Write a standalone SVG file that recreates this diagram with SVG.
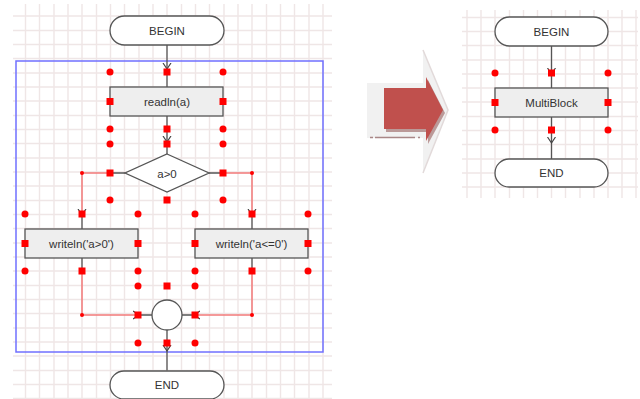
<svg xmlns="http://www.w3.org/2000/svg" width="640" height="399" viewBox="0 0 640 399">
<defs>
<style>
.grid{stroke:#efe6e6;stroke-width:1.4;fill:none}
.term{fill:#fff;stroke:#555;stroke-width:1.3}
.proc{fill:#eeeeee;stroke:#555;stroke-width:1.3}
.shape{fill:#fff;stroke:#555;stroke-width:1.3}
.lbl{font-family:"Liberation Sans",Arial,sans-serif;font-size:11.5px;fill:#333;text-anchor:middle}
.dk{stroke:#555;stroke-width:1.3;fill:none}
.rd{stroke:#f27a7a;stroke-width:1.5;fill:none}
.dot{fill:#ff0000}
.sq{fill:#ff0000}
</style>
<marker id="chev" viewBox="-6 -9 12 11" markerWidth="12" markerHeight="11" refX="0" refY="0" orient="auto" markerUnits="userSpaceOnUse">
<path d="M-4,-4 L0,0 L-4,4" transform="rotate(0)" fill="none" stroke="#444" stroke-width="1.2"/>
</marker>
<marker id="chevr" viewBox="-6 -6 12 12" markerWidth="12" markerHeight="12" refX="0" refY="0" orient="auto" markerUnits="userSpaceOnUse">
<path d="M-6,-4 L0,0 L-6,4" fill="none" stroke="#444" stroke-width="1.2"/>
</marker>
</defs>
<rect width="640" height="399" fill="#fff"/>
<g id="grid-left" class="grid">
<path d="M25.5,4V399M39.5,4V399M54,4V399M68,4V399M82,4V399M96.5,4V399M110.5,4V399M124.5,4V399M139,4V399M153,4V399M167,4V399M181.5,4V399M195.5,4V399M209.5,4V399M224,4V399M238,4V399M252,4V399M266.5,4V399M280.5,4V399M294.5,4V399M309,4V399M323,4V399"/>
<path d="M13,16H332M13,30.5H332M13,44.5H332M13,58.5H332M13,73H332M13,87H332M13,101H332M13,115.5H332M13,129.5H332M13,143.5H332M13,158H332M13,172H332M13,186H332M13,200.5H332M13,214.5H332M13,228.5H332M13,243H332M13,257H332M13,271H332M13,285.5H332M13,299.5H332M13,313.5H332M13,328H332M13,342H332M13,356H332M13,370.5H332M13,384.5H332M13,398.5H332"/>
</g>
<g id="grid-right" class="grid">
<path d="M467,10V198M481,10V198M495,10V198M509.5,10V198M523.5,10V198M537.5,10V198M551.5,10V198M565.5,10V198M580,10V198M594,10V198M608,10V198M622,10V198M636,10V198"/>
<path d="M462,17.5H638M462,31.5H638M462,45.5H638M462,60H638M462,74H638M462,88H638M462,102H638M462,116.5H638M462,130.5H638M462,144.5H638M462,159H638M462,173H638M462,187H638"/>
</g>
<rect id="selection" x="16" y="61" width="307" height="291" fill="none" stroke="#7070ff" stroke-width="1.5"/>
<g id="big-arrow">
<polygon points="367,83 423,83 423,50 448,110 423,173 423,138 367,138" fill="#f1f1f1"/>
<path d="M423,50 L448,110 L423,173" fill="none" stroke="#e2dada" stroke-width="1.5"/>
<polygon points="386,91 428,91 428,80 445,113 428,144 428,132 386,132" fill="#7a2f2d" opacity="0.45"/>
<polygon points="384,88 426,88 426,77 443,110 426,141 426,129 384,129" fill="#c0504d"/>
<path d="M370,137.5 H424" stroke="#8a5a5a" stroke-width="1.5" stroke-dasharray="3,2,40" fill="none" opacity="0.7"/>
</g>
<g id="connectors">
<path class="dk" d="M167,45 V69 V87" marker-mid="url(#chevr)"/>
<path class="dk" d="M167,116 V142 V154" marker-mid="url(#chevr)"/>
<path class="dk" d="M125,173 H110 M209,173 H223"/>
<path class="rd" d="M110,173 H82 V215"/>
<path class="rd" d="M223,173 H252 V215"/>
<path d="M82,173 V215" fill="none" stroke="none" marker-end="url(#chevr)"/>
<path d="M252,173 V215" fill="none" stroke="none" marker-end="url(#chevr)"/>
<path class="dk" d="M82,215 V229 M252,215 V229"/>
<path class="dk" d="M82,258 V271 M252,258 V271"/>
<path class="rd" d="M82,271 V315 H139"/>
<path class="rd" d="M252,271 V315 H194"/>
<path d="M82,315 H139" fill="none" stroke="none" marker-end="url(#chevr)"/>
<path d="M252,315 H194" fill="none" stroke="none" marker-end="url(#chevr)"/>
<path class="dk" d="M139,315 H152 M194,315 H182"/>
<path class="dk" d="M167,330 V351 V370.5" marker-mid="url(#chevr)"/>
<circle class="dot" cx="82" cy="173" r="2"/>
<circle class="dot" cx="252" cy="173" r="2"/>
<circle class="dot" cx="82" cy="315" r="2"/>
<circle class="dot" cx="252" cy="315" r="2"/>
<path class="dk" d="M551.5,46 V74 V88" marker-mid="url(#chevr)"/>
<path class="dk" d="M551.5,117 V143 V159" marker-mid="url(#chevr)"/>
</g>
<g id="begin">
<rect class="term" x="110" y="16" width="114" height="29" rx="14.5"/>
<text class="lbl" x="167" y="34.5">BEGIN</text>
</g>
<g id="readln">
<rect class="proc" x="110" y="87" width="113" height="29"/>
<text class="lbl" x="167" y="105.5">readln(a)</text>
</g>
<g id="cond">
<polygon class="shape" points="167,154 209,173 167,192 125,173"/>
<text class="lbl" x="167" y="177.5">a&gt;0</text>
</g>
<g id="write-pos">
<rect class="proc" x="25" y="229" width="113" height="29"/>
<text class="lbl" x="81.5" y="247.5">writeln('a&gt;0')</text>
</g>
<g id="write-neg">
<rect class="proc" x="195" y="229" width="113" height="29"/>
<text class="lbl" x="251.5" y="247.5">writeln('a&lt;=0')</text>
</g>
<g id="join">
<circle class="shape" cx="167" cy="315" r="15"/>
</g>
<g id="end">
<rect class="term" x="110" y="371" width="114" height="28" rx="14"/>
<text class="lbl" x="167" y="389">END</text>
</g>
<g id="begin2">
<rect class="term" x="495" y="17" width="113" height="29" rx="14.5"/>
<text class="lbl" x="551.5" y="35.5">BEGIN</text>
</g>
<g id="multiblock">
<rect class="proc" x="495" y="88" width="113" height="29"/>
<text class="lbl" x="551.5" y="106.5">MultiBlock</text>
</g>
<g id="end2">
<rect class="term" x="495" y="159" width="113" height="28" rx="14"/>
<text class="lbl" x="551.5" y="177">END</text>
</g>
<g id="handles">
<g class="dot">
<circle cx="110" cy="72" r="3.5"/><circle cx="223" cy="72" r="3.5"/>
<circle cx="110" cy="129" r="3.5"/><circle cx="223" cy="129" r="3.5"/>
<circle cx="110" cy="144" r="3.5"/><circle cx="223" cy="144" r="3.5"/>
<circle cx="110" cy="200" r="3.5"/><circle cx="223" cy="200" r="3.5"/>
<circle cx="25" cy="214" r="3.5"/><circle cx="138" cy="214" r="3.5"/>
<circle cx="25" cy="271" r="3.5"/><circle cx="138" cy="271" r="3.5"/>
<circle cx="195" cy="214" r="3.5"/><circle cx="308" cy="214" r="3.5"/>
<circle cx="195" cy="271" r="3.5"/><circle cx="308" cy="271" r="3.5"/>
<circle cx="138" cy="286" r="3.5"/><circle cx="195" cy="286" r="3.5"/>
<circle cx="138" cy="343" r="3.5"/><circle cx="195" cy="343" r="3.5"/>
<circle cx="495" cy="73" r="3.5"/><circle cx="608" cy="73" r="3.5"/>
<circle cx="495" cy="130" r="3.5"/><circle cx="608" cy="130" r="3.5"/>
</g>
<g class="sq">
<rect x="163.5" y="68.5" width="7" height="7"/>
<rect x="106.5" y="98" width="7" height="7"/><rect x="219.5" y="98" width="7" height="7"/>
<rect x="163.5" y="125.5" width="7" height="7"/>
<rect x="163.5" y="140.5" width="7" height="7"/>
<rect x="106.5" y="169.5" width="7" height="7"/><rect x="219.5" y="169.5" width="7" height="7"/>
<rect x="163.5" y="196.5" width="7" height="7"/>
<rect x="78.5" y="210.5" width="7" height="7"/><rect x="248.5" y="210.5" width="7" height="7"/>
<rect x="21.5" y="240" width="7" height="7"/><rect x="134.5" y="240" width="7" height="7"/>
<rect x="191.5" y="240" width="7" height="7"/><rect x="304.5" y="240" width="7" height="7"/>
<rect x="78.5" y="267.5" width="7" height="7"/><rect x="248.5" y="267.5" width="7" height="7"/>
<rect x="163.5" y="282.5" width="7" height="7"/>
<rect x="134.5" y="311.5" width="7" height="7"/><rect x="191.5" y="311.5" width="7" height="7"/>
<rect x="163.5" y="339.5" width="7" height="7"/>
<rect x="548" y="69.5" width="7" height="7"/>
<rect x="491.5" y="99" width="7" height="7"/><rect x="604.5" y="99" width="7" height="7"/>
<rect x="548" y="126.5" width="7" height="7"/>
</g>
</g>
</svg>
